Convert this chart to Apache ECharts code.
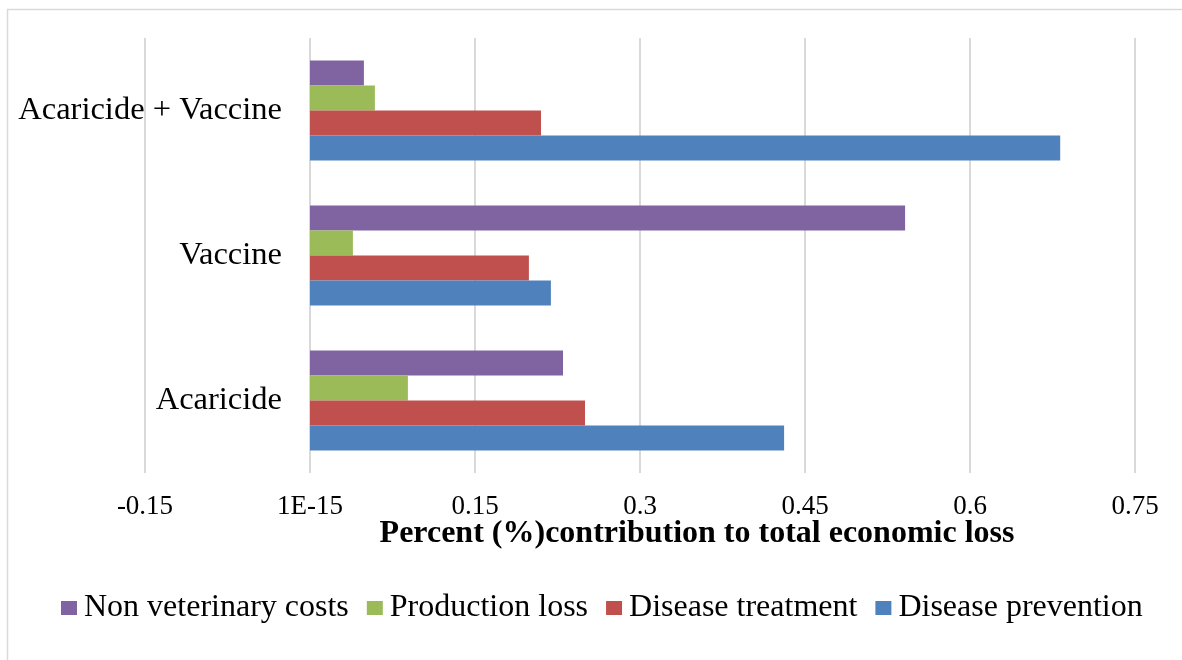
<!DOCTYPE html>
<html><head><meta charset="utf-8">
<script src="https://cdn.jsdelivr.net/npm/echarts@6/dist/echarts.min.js"></script>
<style>html,body{margin:0;padding:0;background:#fff}#c{width:1182px;height:660px}</style>
</head><body><div id="c"></div>
<script>
const categories = ['Acaricide', 'Vaccine', 'Acaricide + Vaccine'];
const seriesNames = ['Non veterinary costs', 'Production loss', 'Disease treatment', 'Disease prevention'];
const nonVeterinary = [0.23, 0.541, 0.049];
const productionLoss = [0.089, 0.039, 0.059];
const diseaseTreatment = [0.25, 0.199, 0.21];
const diseasePrevention = [0.431, 0.219, 0.682];
const xTicks = {min: -0.15, max: 0.75, interval: 0.15};
const colors = ['#8064A2', '#9BBB59', '#C0504D', '#4F81BD'];
const values = [nonVeterinary, productionLoss, diseaseTreatment, diseasePrevention];
const font = 'Liberation Serif';

const chart = echarts.init(document.getElementById('c'), null, {renderer: 'canvas'});
chart.setOption({
  backgroundColor: '#fff',
  animation: false,
  grid: {left: 145, right: 47, top: 38, bottom: 187, containLabel: false, outerBoundsMode: 'none'},
  legend: {
    data: seriesNames,
    left: 56, top: 587,
    itemWidth: 16, itemHeight: 14, itemGap: 18,
    icon: 'rect',
    textStyle: {fontFamily: font, fontSize: 32, color: '#000', padding: [0, 0, 0, 2]}
  },
  xAxis: {
    type: 'value', min: xTicks.min, max: xTicks.max, interval: xTicks.interval,
    axisLine: {show: false}, axisTick: {show: false},
    splitLine: {lineStyle: {color: '#d9d9d9', width: 2}},
    axisLabel: {
      fontFamily: font, fontSize: 27, color: '#000', margin: 20,
      formatter: v => Math.abs(v) < 1e-9 ? '1E-15' : String(+v.toFixed(2))
    }
  },
  yAxis: {
    type: 'category', data: categories,
    offset: -165,
    axisLine: {show: false},
    axisTick: {show: false},
    axisLabel: {fontFamily: font, fontSize: 32.5, color: '#000', margin: 28, padding: [6, 0, 0, 0]}
  },
  series: seriesNames.map((n, i) => ({
    name: n, type: 'bar', data: values[i],
    itemStyle: {color: colors[i]},
    barGap: '0%', barCategoryGap: '31%'
  })),
  graphic: [
    {type: 'rect', shape: {x: 7.5, y: 9.5, width: 1300, height: 800},
     style: {fill: 'none', stroke: '#d9d9d9', lineWidth: 1.5}, silent: true},
    {type: 'text', x: 697, y: 534,
     style: {text: 'Percent (%)contribution to total economic loss', fontFamily: font, fontSize: 32, fontWeight: 'bold', fill: '#000', textAlign: 'center', textVerticalAlign: 'middle'}}
  ]
});
</script></body></html>
